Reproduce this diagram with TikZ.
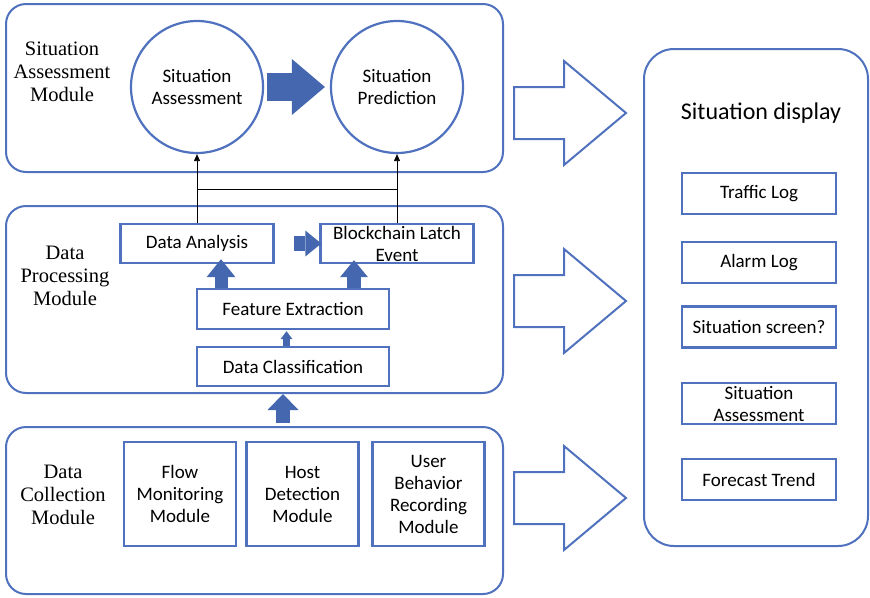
\documentclass[tikz,border=0pt]{standalone}
\usepackage{fontspec}
\setmainfont{Carlito}
\newfontfamily\modserif{Liberation Serif}
\usetikzlibrary{arrows.meta, positioning, calc}
\definecolor{garisbiru}{RGB}{79,113,190}
\definecolor{isibiru}{RGB}{68,103,175}

\begin{document}
\begin{tikzpicture}[x=1pt, y=-1pt, font=\fontsize{19}{22}\selectfont,
        module/.style={rectangle, rounded corners=20pt, draw=garisbiru, line width=2pt},
        modlabel/.style={font=\modserif\fontsize{20.5}{23}\selectfont, align=center},
        box/.style={rectangle, draw=garisbiru, line width=2.4pt, inner sep=0pt, align=center},
        ring/.style={circle, draw=garisbiru, line width=2.2pt, minimum size=132pt,
                     inner sep=0pt, align=center},
        fat/.style n args={3}{draw=isibiru, line width=#1,
                     -{Triangle[length=#2, width=#3, line width=0pt]}},
        hollow/.style={draw=garisbiru, line width=2pt, line join=miter}
    ]
        \useasboundingbox (0,0) rectangle (870,597);
        % modules
        \node[module, minimum width=497pt, minimum height=168pt] (sam) at (254.5,88) {};
        \node[module, minimum width=497pt, minimum height=187pt] (dpm) at (254.5,299.5) {};
        \node[module, minimum width=497pt, minimum height=167pt] (dcm) at (254.5,510.5) {};
        \node[module, rounded corners=30pt, minimum width=224pt, minimum height=497pt] (disp) at (756,297.5) {};
        \node[modlabel] (samlbl) at (62,72)    {Situation\\Assessment\\Module};
        \node[modlabel] (dpmlbl) at (65,275.5) {Data\\Processing\\Module};
        \node[modlabel] (dcmlbl) at (63,494.5) {Data\\Collection\\Module};
        % situation assessment
        \node[ring] (sa) at (197,87) {Situation\\Assessment};
        \node[ring] (sp) at (397,87) {Situation\\Prediction};
        \draw[fat={28pt}{33pt}{56pt}, shorten <=3pt, shorten >=5pt] (sa) -- (sp);
        % data processing
        \node[box, minimum width=153pt, minimum height=39pt] (da)  at (197,243.5) {Data Analysis};
        \node[box, minimum width=153pt, minimum height=39pt] (ble) at (397,243.5) {Blockchain Latch\\Event};
        \node[box, minimum width=192pt, minimum height=40pt] (fe)  at (293,309)   {Feature Extraction};
        \node[box, minimum width=192pt, minimum height=39pt] (dc)  at (293,366.5) {Data Classification};
        \draw[fat={15pt}{16pt}{26pt}, shorten <=19pt, shorten >=-2pt] (da) -- (ble);
        \draw[fat={13pt}{18pt}{29pt}, shorten >=-5pt] ([xshift=24pt]da.south |- fe.north) -- ([xshift=24pt]da.south);
        \draw[fat={14pt}{17pt}{28pt}, shorten >=-4pt] ([xshift=-43pt]ble.south |- fe.north) -- ([xshift=-43pt]ble.south);
        \draw[fat={7pt}{8pt}{12pt}, shorten >=1pt] ([xshift=-6.5pt]fe.south |- dc.north) -- ([xshift=-6.5pt]fe.south);
        % links up to the circles
        \coordinate (bar) at (0,189);
        \draw[-{Triangle[length=7pt, width=6pt]}, line width=0.8pt] (da.north) -- (sa.south);
        \draw[-{Triangle[length=7pt, width=6pt]}, line width=0.8pt] (ble.north) -- (sp.south);
        \draw[line width=0.8pt] (da.north |- bar) -- (ble.north |- bar);
        % data collection
        \foreach \x/\n/\t in {180/flow/{Flow\\Monitoring\\Module},
                              302.5/host/{Host\\Detection\\Module},
                              428.5/user/{User\\Behavior\\Recording\\Module}}
            \node[box, minimum width=112pt, minimum height=104pt] (\n) at (\x,494) {\t};
        \draw[fat={14pt}{16pt}{31pt}, shorten <=3pt] ([xshift=-10pt]dc.south |- dcm.north) -- ([xshift=-10pt]dc.south |- dpm.south);
        % situation display
        \node[font=\fontsize{24}{28}\selectfont] (dtitle) at (761,113) {Situation display};
        \foreach \y/\n/\t in {193.5/tlog/{Traffic Log}, 262.5/alog/{Alarm Log},
                              327/sscr/{Situation screen?}, 403.5/sass/{Situation\\Assessment},
                              479.5/ftr/{Forecast Trend}}
            \node[box, minimum width=154pt, minimum height=41pt] (\n) at (759,\y) {\t};
        \foreach \y in {113, 301, 498}
            \draw[hollow] (514,\y-26) -- (564,\y-26) -- (564,\y-52) -- (626,\y)
                -- (564,\y+52) -- (564,\y+26) -- (514,\y+26) -- cycle;
    \end{tikzpicture}
\end{document}
